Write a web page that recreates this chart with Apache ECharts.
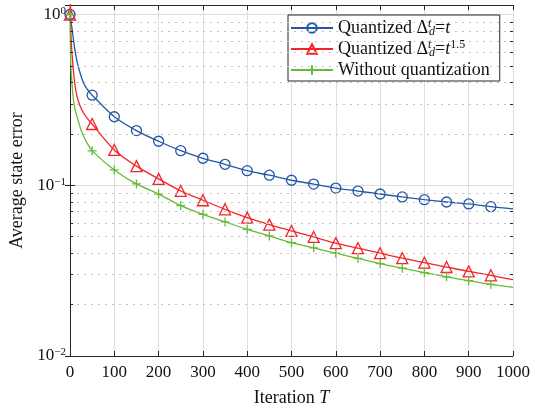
<!DOCTYPE html>
<html lang="en">
<head>
    <meta charset="UTF-8">
    <title>Average state error</title>
    <script src="https://cdn.jsdelivr.net/npm/echarts@6/dist/echarts.min.js"></script>
    <style>
        html, body { margin: 0; padding: 0; background: #fff; }
        #main { width: 535px; height: 412px; }
    </style>
</head>
<body>
<div id="main"></div>
<script>
    var iters = [0, 1, 2, 4, 7, 11, 16, 23, 31, 40, 50, 100, 150, 200, 250, 300, 350, 400, 450, 500,
        550, 600, 650, 700, 750, 800, 850, 900, 950, 1000];
    var quantT = [1.0, 0.95, 0.90, 0.85, 0.74, 0.62, 0.53, 0.453, 0.395, 0.362, 0.337, 0.252, 0.209, 0.181,
        0.1595, 0.1439, 0.1327, 0.1217, 0.1145, 0.1070, 0.1016, 0.0963, 0.0925, 0.0889, 0.0854,
        0.0823, 0.0798, 0.0777, 0.0749, 0.0727];
    var quantT15 = [1.0, 1.4, 0.80, 0.62, 0.49, 0.39, 0.330, 0.29, 0.264, 0.245, 0.2285, 0.161, 0.1294, 0.109,
        0.0926, 0.0817, 0.0723, 0.0646, 0.0588, 0.0540, 0.0498, 0.0458, 0.0428, 0.0400, 0.0374,
        0.0352, 0.0332, 0.0313, 0.0297, 0.0280];
    var noQuant = [1.0, 0.62, 0.50, 0.41, 0.33, 0.28, 0.252, 0.218, 0.193, 0.174, 0.159, 0.123, 0.1018, 0.0888,
        0.0760, 0.0676, 0.0610, 0.0552, 0.0505, 0.0461, 0.0430, 0.0400, 0.0373, 0.0348, 0.0327,
        0.0308, 0.0291, 0.0276, 0.0263, 0.0252];
    var seriesNames = ['Quantized t', 'Quantized t1.5', 'Without quantization'];
    var minorVals = [0.02, 0.03, 0.04, 0.05, 0.06, 0.07, 0.08, 0.09, 0.2, 0.3, 0.4, 0.5, 0.6, 0.7, 0.8, 0.9];

    var font = 'Liberation Serif';
    var axisColor = '#262626';
    var colors = ['#2457a6', '#f2262a', '#66bb38'];

    // markers only every 50 iterations (not on the last point)
    function pairs(ys) {
        return iters.map(function (x, i) {
            var item = { value: [x, ys[i]] };
            if (x % 50 !== 0 || x >= 1000) item.symbol = 'none';
            return item;
        });
    }
    var plusPath = 'path://M0,-10 L0,10 M-10,0 L10,0';

    var myChart = echarts.init(document.getElementById('main'));

    var supStyle = { fontFamily: font, fontSize: 11, verticalAlign: 'top', padding: [0, 0, 7, 0], color: '#111' };
    var legendRich = {
        sup: { fontFamily: font, fontSize: 12, fontStyle: 'italic', verticalAlign: 'top', width: 1, padding: [0, 0, 8, 0] },
        supr: { fontFamily: font, fontSize: 12, verticalAlign: 'top', padding: [0, 0, 8, 0] },
        sub: { fontFamily: font, fontSize: 12, fontStyle: 'italic', verticalAlign: 'bottom', padding: [6, 0, 0, 0] },
        it: { fontFamily: font, fontSize: 18, fontStyle: 'italic' }
    };

    var option = {
        backgroundColor: '#fff',
        animation: false,
        grid: { left: 68, right: 22, top: 5, bottom: 56 },
        legend: {
            orient: 'vertical',
            left: 288,
            top: 15,
            padding: [3, 10, 1, 2],
            itemGap: 1,
            itemWidth: 42,
            itemHeight: 12,
            backgroundColor: '#fff',
            borderColor: axisColor,
            borderWidth: 1,
            borderRadius: 0,
            data: seriesNames,
            textStyle: { fontFamily: font, fontSize: 18, color: '#111', lineHeight: 20, rich: legendRich },
            formatter: function (name) {
                if (name === seriesNames[0]) return 'Quantized Δ{sup|t}{sub|d}={it|t}';
                if (name === seriesNames[1]) return 'Quantized Δ{sup|t}{sub|d}={it|t}{supr|1.5}';
                return name;
            }
        },
        xAxis: [{
            type: 'value',
            min: 0,
            max: 1000,
            interval: 100,
            position: 'bottom',
            name: 'Iteration {it|T}',
            nameLocation: 'middle',
            nameGap: 33,
            nameTextStyle: { fontFamily: font, fontSize: 18, color: '#111', rich: { it: { fontFamily: font, fontSize: 18, fontStyle: 'italic', color: '#111' } } },
            axisLine: { show: true, lineStyle: { color: axisColor, width: 1 } },
            axisTick: { show: true, inside: true, length: 5, lineStyle: { color: axisColor } },
            axisLabel: { fontFamily: font, fontSize: 17, color: '#111', margin: 8, formatter: function (v) { return String(v); } },
            splitLine: { show: true, lineStyle: { color: '#dedede', width: 1 } }
        }, {
            type: 'value',
            min: 0,
            max: 1000,
            interval: 100,
            position: 'top',
            axisLine: { show: true, lineStyle: { color: axisColor, width: 1 } },
            axisTick: { show: true, inside: true, length: 5, lineStyle: { color: axisColor } },
            axisLabel: { show: false },
            splitLine: { show: false }
        }],
        yAxis: [{
            type: 'log',
            min: 0.01,
            max: 1.137,
            position: 'left',
            name: 'Average state error',
            nameLocation: 'middle',
            nameGap: 44,
            nameTextStyle: { fontFamily: font, fontSize: 18, color: '#111' },
            axisLine: { show: true, lineStyle: { color: axisColor, width: 1 } },
            axisTick: { show: true, inside: true, length: 5, lineStyle: { color: axisColor } },
            axisLabel: {
                fontFamily: font, fontSize: 17, color: '#111', margin: 4,
                rich: { sup: supStyle },
                formatter: function (v) {
                    var l = Math.log10(v), e = Math.round(l);
                    if (Math.abs(l - e) > 0.01) return '';
                    return '10{sup|' + (e < 0 ? '\u2212' + (-e) : e) + '}';
                }
            },
            splitLine: { show: true, lineStyle: { color: '#dedede', width: 1 } }
        }, {
            type: 'log',
            min: 0.01,
            max: 1.137,
            position: 'right',
            axisLine: { show: true, lineStyle: { color: axisColor, width: 1 } },
            axisTick: { show: true, inside: true, length: 5, lineStyle: { color: axisColor } },
            axisLabel: { show: false },
            splitLine: { show: false }
        }],
        series: [
            {
                // dotted minor grid
                type: 'line', data: [], z: 1, silent: true,
                markLine: {
                    silent: true, symbol: ['none', 'none'], label: { show: false }, animation: false,
                    lineStyle: { color: '#c4c4c4', type: [2, 5], width: 1 },
                    data: minorVals.map(function (v) { return { yAxis: v }; })
                }
            },
            {
                // minor ticks on both sides
                type: 'line', data: [], z: 3, silent: true,
                markLine: {
                    silent: true, symbol: ['none', 'none'], label: { show: false }, animation: false,
                    lineStyle: { color: axisColor, type: 'solid', width: 1 },
                    data: minorVals.reduce(function (acc, v) {
                        acc.push([{ coord: [0, v] }, { coord: [7, v] }]);
                        acc.push([{ coord: [993, v] }, { coord: [1000, v] }]);
                        return acc;
                    }, [])
                }
            },
            {
                name: seriesNames[0], type: 'line', data: pairs(quantT), smooth: 0.3,
                symbol: 'circle', symbolSize: 10, showAllSymbol: true,
                lineStyle: { color: colors[0], width: 1.3 },
                itemStyle: { color: 'rgba(255,255,255,0)', borderColor: colors[0], borderWidth: 1.3 }
            },
            {
                name: seriesNames[1], type: 'line', data: pairs(quantT15), smooth: 0.3,
                symbol: 'triangle', symbolSize: 11, showAllSymbol: true,
                lineStyle: { color: colors[1], width: 1.3 },
                itemStyle: { color: 'rgba(255,255,255,0)', borderColor: colors[1], borderWidth: 1.3 }
            },
            {
                name: seriesNames[2], type: 'line', data: pairs(noQuant), smooth: 0.3,
                symbol: plusPath, symbolSize: 9, showAllSymbol: true,
                lineStyle: { color: colors[2], width: 1.3 },
                itemStyle: { color: 'rgba(255,255,255,0)', borderColor: colors[2], borderWidth: 1.3 }
            }
        ]
    };
    myChart.setOption(option);
</script>
</body>
</html>
